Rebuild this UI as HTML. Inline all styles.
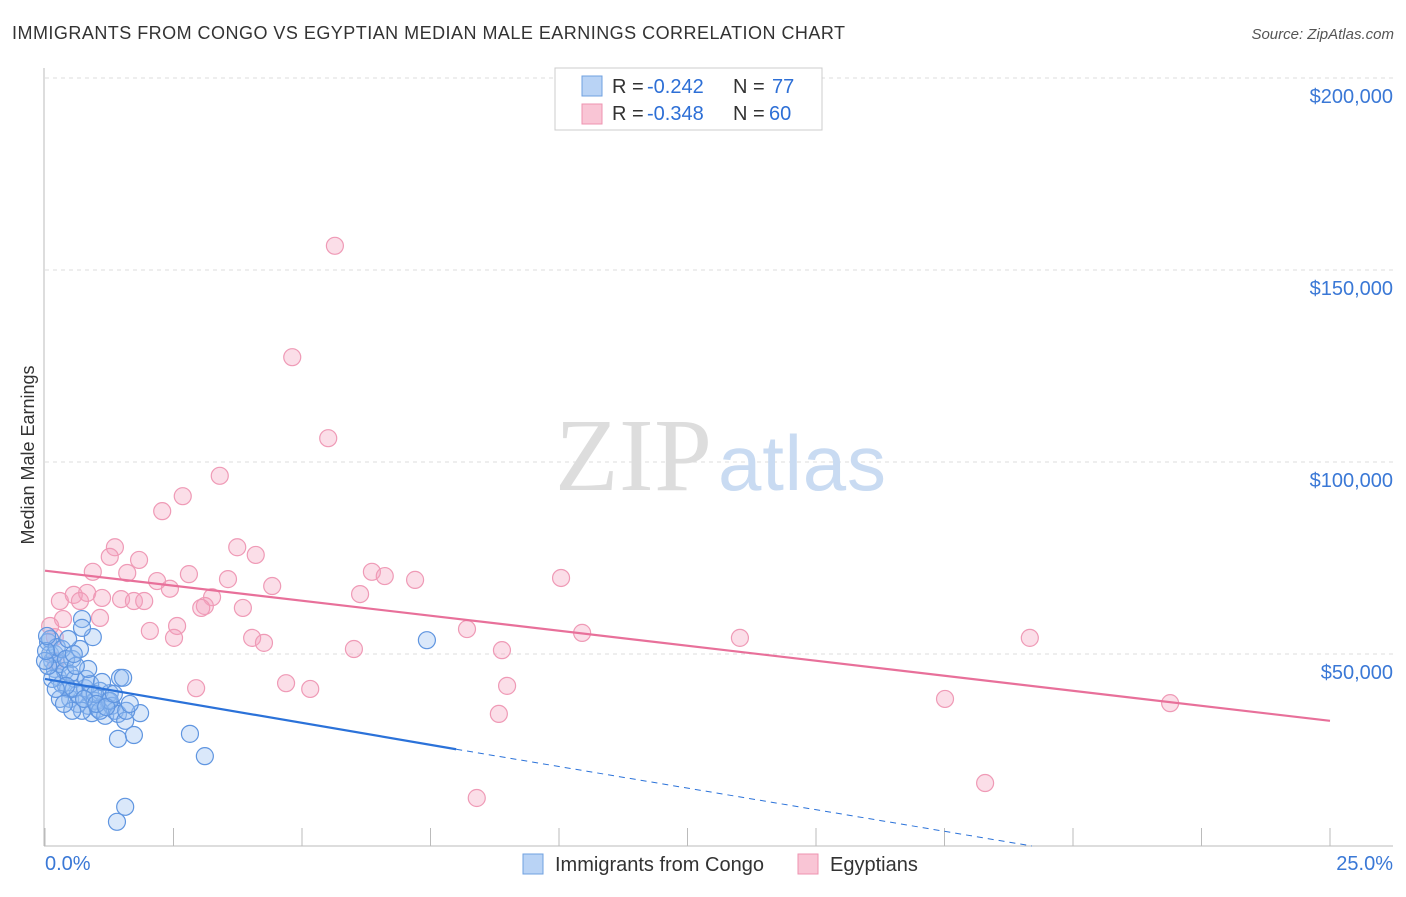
<!DOCTYPE html>
<html><head><meta charset="utf-8"><style>
body{margin:0;background:#fff;font-family:"Liberation Sans",sans-serif;}
svg text{font-family:"Liberation Sans",sans-serif;}
</style></head><body>
<svg width="1406" height="892" viewBox="0 0 1406 892">
<text x="12" y="39" font-size="18" fill="#333" textLength="833">IMMIGRANTS FROM CONGO VS EGYPTIAN MEDIAN MALE EARNINGS CORRELATION CHART</text>
<text x="1394" y="39" font-size="15" fill="#555" text-anchor="end" font-style="italic">Source: ZipAtlas.com</text>
<g id="grid"></g>
<text x="555" y="490" font-size="104" fill="#ddd" textLength="157" style="font-family:'Liberation Serif',serif">ZIP</text>
<text x="718" y="490" font-size="78" fill="#c9dbf2" textLength="168">atlas</text>
<text transform="translate(34,455) rotate(-90)" font-size="18" fill="#333" text-anchor="middle">Median Male Earnings</text>
<g id="pts"></g>
<g id="lines"></g>
<g>
<rect x="555" y="68" width="267" height="62" fill="#fff" stroke="#ccc"/>
<rect x="582" y="76" width="20" height="20" fill="#b9d3f5" stroke="#6fa0e0"/>
<rect x="582" y="104" width="20" height="20" fill="#f9c5d5" stroke="#ee93b0"/>
<text x="612" y="93" font-size="20" fill="#333">R =</text>
<text x="647" y="93" font-size="20" fill="#2d6fd6">-0.242</text>
<text x="733" y="93" font-size="20" fill="#333">N =</text>
<text x="772" y="93" font-size="20" fill="#2d6fd6">77</text>
<text x="612" y="120" font-size="20" fill="#333">R =</text>
<text x="647" y="120" font-size="20" fill="#2d6fd6">-0.348</text>
<text x="733" y="120" font-size="20" fill="#333">N =</text>
<text x="769" y="120" font-size="20" fill="#2d6fd6">60</text>
</g>
<g>
<rect x="523" y="854" width="20" height="20" fill="#b9d3f5" stroke="#6fa0e0"/>
<text x="555" y="871" font-size="20" fill="#333">Immigrants from Congo</text>
<rect x="798" y="854" width="20" height="20" fill="#f9c5d5" stroke="#ee93b0"/>
<text x="830" y="871" font-size="20" fill="#333">Egyptians</text>
</g>
</svg>
<script>
const yTicks=[50000,100000,150000,200000];
const yTickLabels=["$50,000","$100,000","$150,000","$200,000"];
const xTicks=[0,2.5,5,7.5,10,12.5,15,17.5,20,22.5,25];
const congoX=[0.06,0.1,0.14,0.19,0.25,0.29,0.33,0.39,0.45,0.49,0.53,0.58,0.64,0.68,0.72,0.78,0.84,0.88,0.91,0.97,1.03,1.07,1.17,1.23,1.26,1.3,1.36,1.42,1.46,1.52,1.42,1.56,1.73,1.85,1.4,1.56,2.82,3.11,0.93,0.72,7.43,0.1,0.19,0.23,0.33,0.41,0.49,0.56,0.64,0.72,0.8,0.88,0.97,1.07,1.26,1.11,0.84,0.6,0.41,0.29,0.14,0.06,0.21,0.53,0.37,0.76,1.0,1.19,1.34,1.58,1.65,0.45,0.56,0.0,0.02,0.04];
const congoY=[53.1,50,48.2,46.1,44,47.4,42.2,45.6,40.9,38.3,48.7,43.5,39.6,51.3,59.1,41.1,36.5,39.6,34.6,37.8,35.7,40.4,33.9,37.8,39.8,36.5,35.2,34.4,43.8,43.8,27.9,32.6,28.9,34.6,6.3,10.2,29.2,23.4,54.4,56.8,53.6,53.9,50,51.8,51.3,48.7,44.8,40.9,37,35.2,43.5,42.2,39.6,35.2,37.8,42.7,46.1,46.9,41.7,38.3,43.5,46.9,40.9,35.2,37,38.3,37,36.2,39.6,35.2,37,53.9,50,48.2,50.8,54.7];
const egX=[5.64,4.81,5.51,3.4,2.68,2.28,3.74,1.36,4.1,1.26,1.83,6.36,6.61,0.93,1.6,2.8,3.56,7.2,10.04,2.18,4.42,2.43,0.29,0.56,0.82,1.11,1.48,1.73,1.93,3.25,6.13,3.11,3.04,3.85,1.07,0.35,2.57,2.04,0.19,8.21,10.45,2.51,4.03,4.26,13.52,19.16,6.01,8.89,4.69,2.94,5.16,8.99,17.51,21.89,8.83,18.29,8.4,0.1,0.21,0.68];
const egY=[156.3,127.3,106.2,96.4,91.1,87.2,77.8,77.8,75.8,75.3,74.5,71.4,70.3,71.4,71.1,70.8,69.5,69.3,69.8,69,67.7,67,63.8,65.4,65.9,64.6,64.3,63.8,63.8,64.8,65.6,62.5,62,62,59.4,59.1,57.3,56,54.4,56.5,55.5,54.2,54.2,52.9,54.2,54.2,51.3,51,42.4,41.1,40.9,41.7,38.3,37.2,34.4,16.4,12.5,57.3,48.2,63.8];
const X0=45,X1=1330,YB=846,YPX=192/50000;
const xs=v=>X0+(v/25)*(X1-X0);
const ys=v=>YB-v*YPX;
const NS="http://www.w3.org/2000/svg";
function mk(tag,attrs,parent){const e=document.createElementNS(NS,tag);for(const k in attrs)e.setAttribute(k,attrs[k]);parent.appendChild(e);return e;}
const grid=document.getElementById('grid');
yTicks.forEach((t,i)=>{
 const l=mk('line',{x1:45,x2:1393,y1:ys(t),y2:ys(t),stroke:'#ddd','stroke-dasharray':'4,4'},grid);
 
 
 const tx=mk('text',{x:1393,y:ys(t)+25,'font-size':20,fill:'#3a78d6','text-anchor':'end'},grid);
 tx.textContent=yTickLabels[i];
 
 
});
const ax=mk('line',{x1:44,x2:44,y1:68,y2:846,stroke:'#bbb'},grid);


const bx=mk('line',{x1:44,x2:1393,y1:846,y2:846,stroke:'#bbb'},grid);


xTicks.forEach(t=>{
 const l=mk('line',{x1:xs(t),x2:xs(t),y1:828,y2:846,stroke:'#bbb'},grid);
 
 
});
const xl0=mk('text',{x:45,y:870,'font-size':20,fill:'#3a78d6'},grid);xl0.textContent='0.0%';


const xl1=mk('text',{x:1393,y:870,'font-size':20,fill:'#3a78d6','text-anchor':'end'},grid);xl1.textContent='25.0%';


const pts=document.getElementById('pts');
egX.forEach((x,i)=>{
 const c=mk('circle',{cx:xs(x),cy:ys(egY[i]*1000),r:8.5,fill:'rgba(244,160,188,0.35)',stroke:'#ef9ab6','stroke-width':1.2},pts);
 
 
});
congoX.forEach((x,i)=>{
 const c=mk('circle',{cx:xs(x),cy:ys(congoY[i]*1000),r:8.5,fill:'rgba(150,190,240,0.35)',stroke:'#5f95e0','stroke-width':1.2},pts);
 
 
});
const lines=document.getElementById('lines');
const pl=mk('line',{x1:xs(0),y1:ys(71700),x2:xs(25),y2:ys(32600),stroke:'#e8709a','stroke-width':2.2},lines);


const bl=mk('line',{x1:xs(0),y1:ys(43500),x2:xs(8),y2:ys(25200),stroke:'#2b72d9','stroke-width':2.2},lines);


const bd=mk('line',{x1:xs(8),y1:ys(25200),x2:xs(19.2),y2:ys(0),stroke:'#2b72d9','stroke-width':1,'stroke-dasharray':'6,5'},lines);


</script>
</body></html>
